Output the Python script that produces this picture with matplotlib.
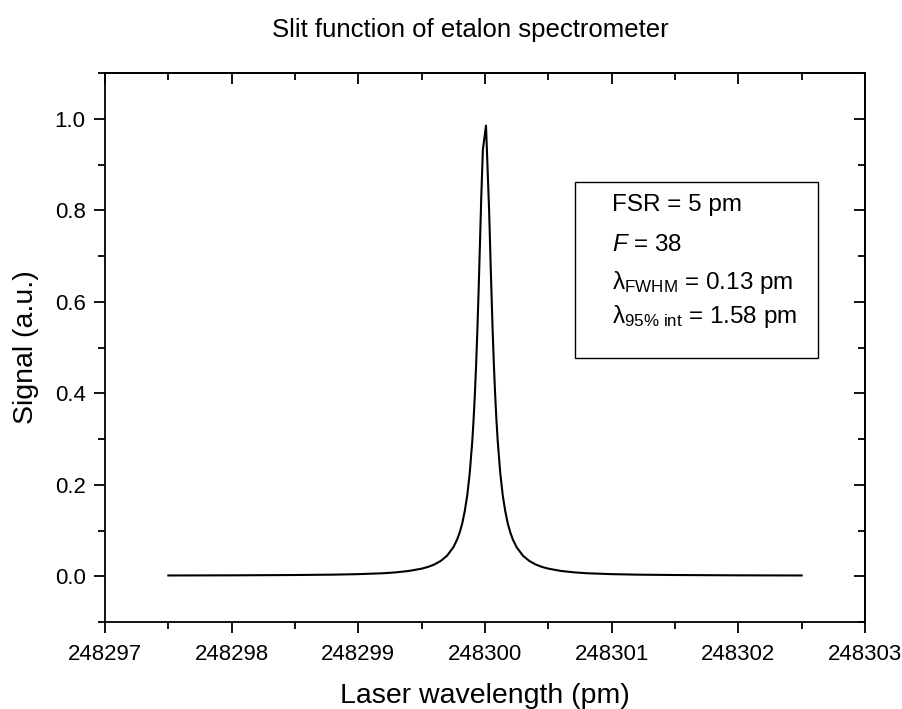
import matplotlib
matplotlib.use("Agg")
import matplotlib.pyplot as plt
from matplotlib.ticker import MultipleLocator

plt.rcParams['font.family'] = ['Liberation Sans', 'DejaVu Sans']
plt.rcParams['mathtext.fontset'] = 'custom'
plt.rcParams['mathtext.rm'] = 'Liberation Sans'
plt.rcParams['mathtext.it'] = 'Liberation Sans:italic'

# Data
center = 248300.0
offsets = [-2.5, -2.0, -1.5, -1.2, -1.0, -0.8, -0.7, -0.6, -0.5, -0.45, -0.4, -0.35,
           -0.3, -0.25, -0.22, -0.2, -0.18, -0.16, -0.14, -0.12, -0.10, -0.09, -0.08,
           -0.07, -0.06, -0.05, -0.04, -0.03, -0.017, 0.008, 0.033, 0.045, 0.06, 0.07,
           0.08, 0.09, 0.10, 0.12, 0.14, 0.16, 0.18, 0.2, 0.22, 0.25, 0.3, 0.35, 0.4,
           0.45, 0.5, 0.6, 0.7, 0.8, 1.0, 1.2, 1.5, 2.0, 2.5]
signal = [0.0017, 0.0020, 0.0027, 0.0035, 0.0046, 0.0066, 0.0086, 0.0116, 0.0166, 0.0204,
          0.0257, 0.0334, 0.0448, 0.0633, 0.0803, 0.0955, 0.115, 0.142, 0.177, 0.227,
          0.297, 0.343, 0.398, 0.463, 0.540, 0.628, 0.725, 0.824, 0.932, 0.985, 0.795,
          0.676, 0.540, 0.463, 0.398, 0.343, 0.297, 0.227, 0.177, 0.142, 0.115, 0.0955,
          0.0803, 0.0633, 0.0448, 0.0334, 0.0257, 0.0204, 0.0166, 0.0116, 0.0086, 0.0066,
          0.0046, 0.0035, 0.0027, 0.0020, 0.0017]
wavelength = [center + d for d in offsets]

title = "Slit function of etalon spectrometer"
xlabel = "Laser wavelength (pm)"
ylabel = "Signal (a.u.)"
xticks = [248297, 248298, 248299, 248300, 248301, 248302, 248303]
info_lines = ["FSR = 5 pm", r"$F$ = 38", r"λ$_{\mathrm{FWHM}}$ = 0.13 pm",
              r"λ$_{\mathrm{95\%\ int}}$ = 1.58 pm"]

fig = plt.figure(figsize=(9.03, 7.09), dpi=100)
ax = fig.add_axes([105/903, 1-622/709, 760/903, 549/709])
ax.plot(wavelength, signal, color='black', lw=1.5)

ax.set_xlim(248297, 248303)
ax.set_ylim(-0.1, 1.1)
ax.set_xticks(xticks)
ax.set_xticklabels([str(t) for t in xticks])
ax.xaxis.set_minor_locator(MultipleLocator(0.5))
ax.yaxis.set_major_locator(MultipleLocator(0.2))
ax.yaxis.set_minor_locator(MultipleLocator(0.1))
ax.yaxis.set_major_formatter(matplotlib.ticker.FormatStrFormatter('%.1f'))

for s in ax.spines.values():
    s.set_linewidth(1.3)
ax.tick_params(which='both', width=1.3, labelsize=16, colors='black')
ax.tick_params(which='major', length=8)
ax.tick_params(which='minor', length=5)
ax.tick_params(which='both', bottom=True, left=True, top=False, right=False, direction='out')
ax.tick_params(axis='x', pad=8)
ax.tick_params(axis='y', pad=6)
# inward ticks on top and right
ax2 = ax.secondary_xaxis('top')
ax2.set_xticks(xticks)
ax2.xaxis.set_minor_locator(MultipleLocator(0.5))
ax2.tick_params(which='both', direction='in', width=1.3, labeltop=False)
ax2.tick_params(which='major', length=8)
ax2.tick_params(which='minor', length=5)
ax2.spines['top'].set_linewidth(1.3)
ax3 = ax.secondary_yaxis('right')
ax3.yaxis.set_major_locator(MultipleLocator(0.2))
ax3.yaxis.set_minor_locator(MultipleLocator(0.1))
ax3.tick_params(which='both', direction='in', width=1.3, labelright=False)
ax3.tick_params(which='major', length=8)
ax3.tick_params(which='minor', length=5)
ax3.spines['right'].set_linewidth(1.3)

ax.set_xlabel(xlabel, fontsize=20.5, labelpad=13)
ax.set_ylabel(ylabel, fontsize=20.5, labelpad=11)
fig.text(470/903, 1-30/709, title, fontsize=18.5, ha='center', va='center')

# info box
box_x0, box_y0, box_x1, box_y1 = 575, 182, 818, 358
rect = matplotlib.patches.Rectangle((box_x0/903, 1-box_y1/709), (box_x1-box_x0)/903,
                                    (box_y1-box_y0)/709, transform=fig.transFigure,
                                    fill=False, edgecolor='black', lw=1.0)
fig.patches.append(rect)
line_y = [205, 245, 282, 316]
for txt, yy in zip(info_lines, line_y):
    fig.text(612/903, 1-yy/709, txt, fontsize=17.5, ha='left', va='center')

fig.savefig("out.png", dpi=100)
